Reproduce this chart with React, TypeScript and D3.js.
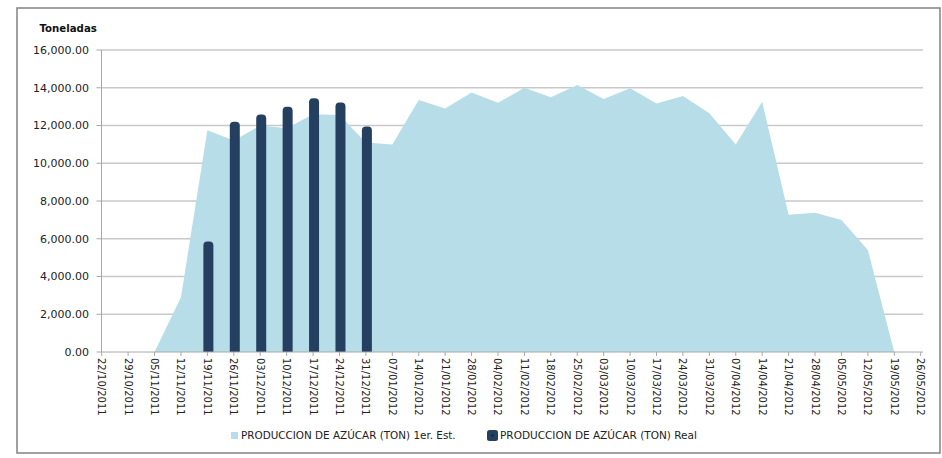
import React from 'react';
import * as d3 from 'd3';

// semanas (eje X)
const fechas = [
  '22/10/2011', '29/10/2011', '05/11/2011', '12/11/2011', '19/11/2011', '26/11/2011',
  '03/12/2011', '10/12/2011', '17/12/2011', '24/12/2011', '31/12/2011', '07/01/2012',
  '14/01/2012', '21/01/2012', '28/01/2012', '04/02/2012', '11/02/2012', '18/02/2012',
  '25/02/2012', '03/03/2012', '10/03/2012', '17/03/2012', '24/03/2012', '31/03/2012',
  '07/04/2012', '14/04/2012', '21/04/2012', '28/04/2012', '05/05/2012', '12/05/2012',
  '19/05/2012', '26/05/2012',
];

// PRODUCCION DE AZÚCAR (TON) 1er. Est.
const estimado: (number | null)[] = [
  null, null, 0, 2900, 11750, 11200,
  12000, 11850, 12600, 12550, 11100, 11000,
  13350, 12900, 13750, 13200, 14000, 13500,
  14150, 13400, 13970, 13170, 13560, 12650,
  11000, 13260, 7270, 7380, 7000, 5400,
  0, null,
];

// PRODUCCION DE AZÚCAR (TON) Real
const realFechas = ['19/11/2011', '26/11/2011', '03/12/2011', '10/12/2011', '17/12/2011', '24/12/2011', '31/12/2011'];
const realValores = [5850, 12200, 12580, 13000, 13450, 13220, 11950];

const yTicks = [0, 2000, 4000, 6000, 8000, 10000, 12000, 14000, 16000];

const legendEst = 'PRODUCCION DE AZÚCAR (TON) 1er. Est.';
const legendReal = 'PRODUCCION DE AZÚCAR (TON) Real';

const W = 942;
const H = 458;
const FONT = '"DejaVu Sans", Verdana, sans-serif';
const AREA_COLOR = '#b7dde8';
const BAR_COLOR = '#243f5f';

const App = () => {
  const x = d3.scalePoint<string>().domain(fechas).range([101.7, 920.7]);
  const y = d3.scaleLinear().domain([0, 16000]).range([352, 50]);
  const left = 101.5;
  const right = 923;

  const area = d3.area<number | null>()
    .defined(d => d !== null)
    .x((d, i) => x(fechas[i]) as number)
    .y0(y(0))
    .y1(d => y(d as number));

  const fmt = d3.format(',.2f');
  const bw = 10;
  const r = 4;

  const barPath = (cx: number, top: number, bottom: number) => {
    const x0 = cx - bw / 2;
    const x1 = cx + bw / 2;
    return `M${x0},${bottom} L${x0},${top + r} Q${x0},${top} ${x0 + r},${top} L${x1 - r},${top} Q${x1},${top} ${x1},${top + r} L${x1},${bottom} Z`;
  };

  return (
    <svg width={W} height={H} style={{ position: 'absolute', left: 0, top: 0, background: '#fff' }}>
      <rect x={17} y={8} width={923} height={445} fill="#fff" stroke="#8a8a8a" strokeWidth={1.6} />

      <text x={39.5} y={32} fontFamily={FONT} fontSize={10.2} fontWeight="bold" fill="#111">Toneladas</text>

      {/* gridlines + y labels */}
      {yTicks.map(t => (
        <g key={t}>
          {t > 0 && (
            <line x1={left} x2={right} y1={y(t)} y2={y(t)} stroke="#c9c9c9" strokeWidth={1.3} />
          )}
          <line x1={96.5} x2={left} y1={y(t)} y2={y(t)} stroke="#a8a8a8" strokeWidth={1} />
          <text x={89} y={y(t)} dy="0.35em" textAnchor="end" fontFamily={FONT} fontSize={11} fill="#222">
            {fmt(t)}
          </text>
        </g>
      ))}

      <path d={area(estimado) || ''} fill={AREA_COLOR} />

      {realFechas.map((f, i) => (
        <path key={f} d={barPath((x(f) as number) + 1, y(realValores[i]), y(0))} fill={BAR_COLOR} />
      ))}

      {/* axes */}
      <line x1={left} x2={left} y1={y(16000)} y2={y(0)} stroke="#a8a8a8" strokeWidth={1} />
      <line x1={left} x2={right} y1={y(0)} y2={y(0)} stroke="#a8a8a8" strokeWidth={1} />
      {fechas.map(f => (
        <g key={f}>
          <line x1={x(f)} x2={x(f)} y1={y(0)} y2={y(0) + 4} stroke="#a8a8a8" strokeWidth={1} />
          <text
            transform={`translate(${x(f)},358) rotate(90)`}
            dy="0.35em"
            fontFamily={FONT}
            fontSize={10}
            fill="#222"
          >
            {f}
          </text>
        </g>
      ))}

      {/* legend */}
      <rect x={231} y={432} width={7} height={7} fill={AREA_COLOR} />
      <text x={241} y={435.5} dy="0.35em" fontFamily={FONT} fontSize={10.4} fill="#222">{legendEst}</text>
      <rect x={487} y={430} width={11} height={11} rx={2.5} fill={BAR_COLOR} />
      <rect x={491.5} y={434.5} width={2} height={2} fill="#0e2238" />
      <text x={500} y={435.5} dy="0.35em" fontFamily={FONT} fontSize={10.5} fill="#222">{legendReal}</text>
    </svg>
  );
};

export default App;
